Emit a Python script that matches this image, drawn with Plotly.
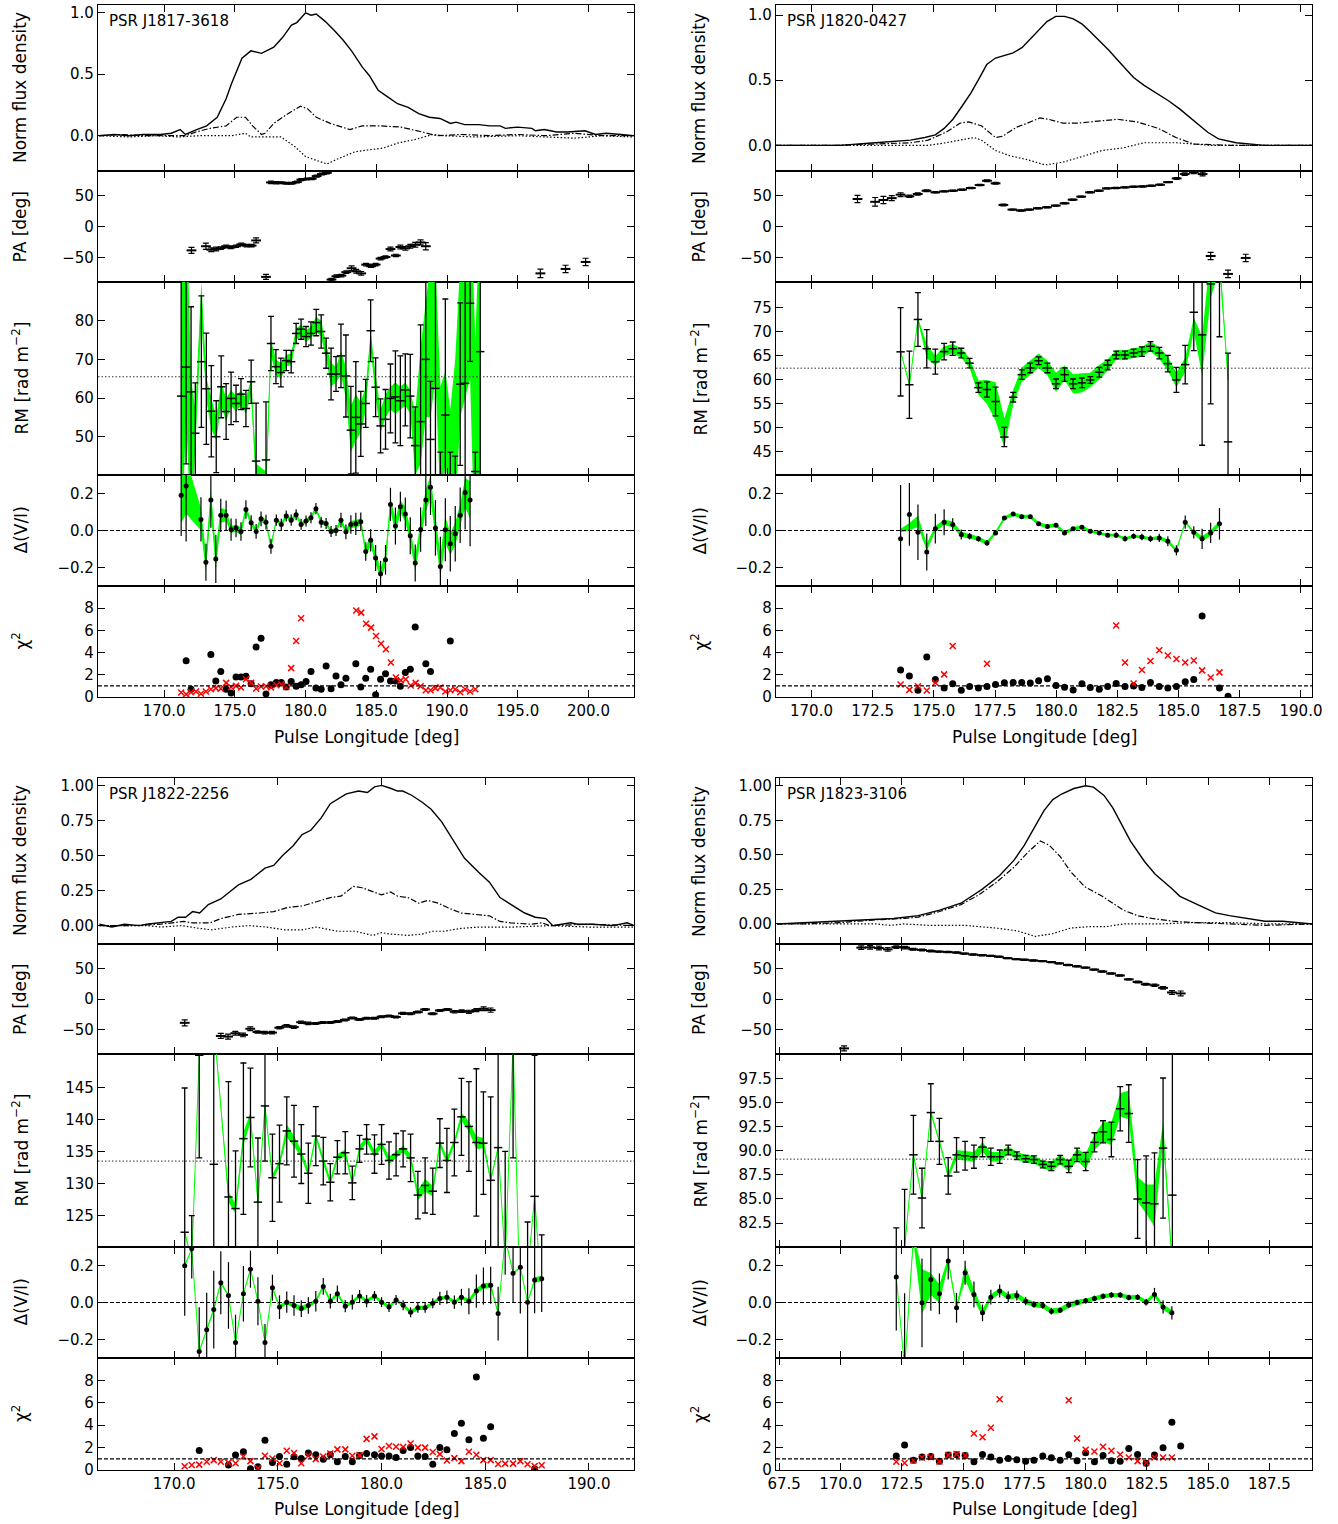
import plotly.graph_objects as go

W, H = 1338, 1524
FONT = "DejaVu Sans"
LIME = "#00ff00"

# ===================== PSR J1817-3618 =====================
p1_name = "PSR J1817-3618"
p1_I_lon = [165.4, 166.5, 167.5, 168.5, 169.75, 170.5, 171.13, 171.5, 172.3, 173.0, 173.75, 174.38, 174.75, 175.5, 176.13,
            176.88, 177.75, 178.38, 179.0, 179.38, 180.0, 180.38, 180.75, 181.38, 182.0, 182.63, 183.25, 184.0, 184.5, 185.13,
            185.75, 186.5, 187.25, 188.0, 188.75, 189.5, 190.25, 190.63, 191.25, 192.25, 193.0, 193.75, 194.13, 195.0, 196.0,
            196.25, 196.88, 197.75, 198.5, 199.75, 200.5, 201.25, 202.3, 203.2]
p1_I = [0.0, 0.01, 0.0, 0.01, 0.01, 0.02, 0.05, 0.01, 0.05, 0.08, 0.15, 0.3, 0.42, 0.63, 0.69,
        0.67, 0.72, 0.8, 0.9, 0.92, 1.0, 0.98, 0.99, 0.93, 0.86, 0.78, 0.69, 0.56, 0.49, 0.37,
        0.32, 0.26, 0.23, 0.18, 0.15, 0.14, 0.1, 0.11, 0.09, 0.09, 0.08, 0.08, 0.06, 0.07, 0.06,
        0.04, 0.05, 0.03, 0.03, 0.04, 0.01, 0.02, 0.01, 0.0]
p1_L_lon = [165.4, 167.0, 168.5, 170.0, 171.5, 172.25, 173.25, 174.38, 175.13, 175.75, 176.25, 176.88, 177.13, 177.75, 178.63,
            179.63, 180.13, 180.75, 181.75, 183.13, 184.0, 185.25, 186.75, 188.25, 189.25, 191.0, 193.0, 195.0, 197.0, 199.0,
            201.0, 203.2]
p1_L = [0.0, 0.01, 0.0, 0.0, 0.0, 0.03, 0.06, 0.08, 0.15, 0.15, 0.08, 0.01, 0.02, 0.1, 0.17,
        0.24, 0.22, 0.15, 0.1, 0.05, 0.08, 0.08, 0.07, 0.03, 0.0, 0.01, 0.0, 0.01, 0.0, 0.02,
        0.0, 0.0]
p1_V_lon = [165.4, 167.5, 169.5, 171.0, 172.5, 174.75, 175.75, 176.13, 178.25, 179.25, 180.0, 181.5, 182.25, 183.5, 185.5,
            186.5, 187.75, 189.0, 189.75, 192.0, 195.0, 197.0, 199.0, 201.0, 203.2]
p1_V = [0.0, -0.01, 0.0, -0.01, 0.0, 0.0, 0.02, -0.01, -0.01, -0.09, -0.17, -0.23, -0.19, -0.13, -0.1,
        -0.06, -0.03, 0.01, 0.0, -0.01, 0.0, -0.01, -0.02, 0.0, -0.01]
p1_pa_lon = [171.93, 172.95, 173.33, 173.68, 174.0, 174.38, 174.7, 175.08, 175.45, 175.83, 176.18, 176.5, 177.2, 177.55, 177.93,
             178.28, 178.65, 179.0, 179.38, 179.7, 180.08, 180.43, 180.78, 181.15, 181.5, 181.83, 182.18, 182.53, 182.88, 183.25,
             183.58, 183.93, 184.28, 184.63, 184.95, 185.3, 185.65, 186.0, 186.38, 186.7, 187.05, 187.4, 187.75, 188.13, 188.5,
             196.6, 198.38, 199.8]
p1_pa = [-38.7, -32, -37.6, -36.6, -35, -32, -34, -32, -29, -31, -31, -22.6, -81.7, 71.5, 71,
         71, 70, 70, 72, 76, 77, 77.4, 81.7, 85, 87, -86, -80.6, -79.6, -74, -67.7,
         -72.6, -76, -61.8, -64.5, -61.8, -52, -49.5, -36.6, -47, -33.3, -35.5, -32, -29.6, -25.8, -32,
         -76, -68.8, -57.5]
p1_pa_err = [5, 5, 3, 3, 2, 2, 2, 2, 2, 2, 2, 4, 4, 2, 2,
             1.5, 1.5, 1.5, 1.5, 1.5, 1.5, 1.5, 1.5, 1.5, 1.5, 2, 2, 2, 2, 4,
             3, 3, 2, 2, 2, 2, 2, 3, 2, 3, 3, 3, 4, 4, 6,
             7, 6, 6]
p1_rm_lon = [171.2, 171.55, 171.9, 172.2, 172.63, 172.98, 173.33, 173.68, 174.03, 174.38, 174.73, 175.08, 175.43, 175.78, 176.15,
             176.5, 177.2, 177.55, 177.9, 178.25, 178.63, 178.98, 179.33, 179.68, 180.03, 180.38, 180.75, 181.1, 181.45, 181.8,
             182.15, 182.5, 182.85, 183.2, 183.55, 183.9, 184.25, 184.6, 184.95, 185.3, 185.65, 186.0, 186.35, 186.7, 187.05,
             187.4, 187.75, 188.13, 188.5, 188.83, 189.18, 189.53, 189.88, 190.23, 190.58, 190.93, 191.28, 191.63, 192.0, 192.35]
p1_rm = [60.5, 68, 61.6, 50.9, 69.4, 62.4, 56.6, 50, 62.9, 56.5, 59.9, 58.6, 61, 57.3, 64.2,
         43.7, 44, 74.1, 68.1, 66.6, 69.7, 69.4, 76.7, 77.8, 75.9, 76.7, 79.5, 77.2, 71.6, 66.2,
         66.2, 70.9, 65.7, 51.7, 55, 53.3, 58.6, 77.4, 62.8, 52.8, 54.5, 59.9, 60.3, 59.3, 62.1,
         60.5, 47.7, 53.9, 70, 49.3, 62.5, 38, 55.6, 36, 30, 63.6, 63.8, 84.5, 41, 72]
p1_rm_err = [30, 25, 22, 13, 17, 14.4, 11.8, 9.3, 8, 7.2, 6.8, 4.7, 4, 4.7, 5.6,
             15, 15, 7, 4.4, 3.7, 2.6, 2.9, 2.6, 2.6, 2.6, 3, 3.4, 4.3, 3.9, 6.7,
             4.5, 8.2, 10.6, 11.3, 14.4, 8.4, 6.2, 8, 7.6, 7, 7.7, 8.9, 11.9, 11.6, 9.3,
             10.8, 10, 25, 30, 15, 30, 8, 30, 10, 15, 21, 30, 15, 5, 40]
p1_rm_g = [60.5, 85, 45, 52, 85, 62.4, 56, 52, 61, 57, 60, 58.6, 60, 58, 63,
           40, 38, 73, 68, 67, 69.7, 70, 76.5, 77.5, 76, 77, 79, 78, 72, 66,
           66, 69, 64, 52, 55, 55, 60, 75, 63, 54, 58, 60, 60, 60, 61,
           59, 48, 58, 70, 75, 80, 48, 55, 45, 50, 75, 80, 90, 45, 72]
p1_rm_gw = [40, 30, 20, 5, 5, 3, 4, 3, 3, 3, 2, 2, 2, 2, 2,
            3, 3, 2, 2, 2, 1.5, 1.5, 1.5, 1.5, 1.5, 1.5, 2, 2, 2, 3,
            2, 3, 4, 6, 6, 4, 3, 2, 3, 3, 3, 3, 4, 3, 3,
            3, 8, 15, 15, 20, 15, 15, 12, 12, 20, 20, 20, 25, 30, 40]
p1_rm_ref = 65.5
p1_dv_lon = [171.2, 171.55, 172.6, 172.95, 173.3, 173.65, 174.0, 174.38, 174.73, 175.08, 175.43, 175.78, 176.15, 176.5, 176.85,
             177.2, 177.55, 177.93, 178.28, 178.63, 178.98, 179.33, 179.68, 180.03, 180.38, 180.73, 181.1, 181.45, 181.8, 182.15,
             182.5, 182.85, 183.2, 183.55, 183.9, 184.25, 184.6, 184.95, 185.3, 185.65, 186.0, 186.35, 186.7, 187.05, 187.4,
             187.75, 188.13, 188.5, 188.83, 189.18, 189.53, 189.88, 190.23, 190.58, 190.93, 191.28, 191.63]
p1_dv = [0.19, 0.24, 0.06, -0.172, 0.165, -0.154, 0.082, 0.082, 0.005, 0.013, -0.005, 0.114, 0.042, -0.005, 0.063,
         0.045, -0.085, 0.056, 0.033, 0.078, 0.056, 0.085, 0.033, 0.051, 0.069, 0.118, 0.045, 0.038, -0.005, 0.0,
         0.056, -0.007, 0.033, 0.036, 0.047, -0.114, -0.053, -0.149, -0.234, -0.158, 0.141, 0.024, 0.129, 0.089, -0.029,
         -0.176, 0.005, 0.165, 0.234, 0.014, -0.194, 0.004, -0.072, -0.018, 0.082, 0.205, 0.165]
p1_dv_err = [0.22, 0.3, 0.12, 0.1, 0.15, 0.13, 0.09, 0.08, 0.06, 0.05, 0.05, 0.05, 0.04, 0.04, 0.04,
             0.04, 0.04, 0.03, 0.03, 0.03, 0.03, 0.03, 0.03, 0.03, 0.03, 0.03, 0.03, 0.03, 0.03, 0.03,
             0.04, 0.04, 0.05, 0.06, 0.05, 0.05, 0.06, 0.07, 0.07, 0.08, 0.09, 0.1, 0.08, 0.09, 0.1,
             0.1, 0.12, 0.14, 0.15, 0.15, 0.16, 0.17, 0.15, 0.15, 0.15, 0.2, 0.25]
p1_dv_g = p1_dv
p1_dv_gw = [0.15, 0.15, 0.06, 0.05, 0.06, 0.06, 0.04, 0.03, 0.02, 0.02, 0.02, 0.02, 0.015, 0.015, 0.015,
            0.015, 0.015, 0.012, 0.012, 0.012, 0.012, 0.012, 0.012, 0.012, 0.012, 0.012, 0.012, 0.012, 0.012, 0.012,
            0.015, 0.015, 0.02, 0.02, 0.02, 0.025, 0.03, 0.03, 0.03, 0.035, 0.035, 0.04, 0.035, 0.04, 0.04,
            0.04, 0.05, 0.06, 0.06, 0.06, 0.06, 0.07, 0.06, 0.06, 0.06, 0.08, 0.1]
p1_chib_lon = [171.55, 171.9, 173.3, 173.65, 174.0, 174.38, 174.73, 175.08, 175.43, 175.78, 176.15, 176.5, 176.85, 177.2, 177.55,
               177.93, 178.28, 178.63, 178.98, 179.33, 179.68, 180.03, 180.38, 180.73, 181.1, 181.45, 181.8, 182.15, 182.5, 182.85,
               183.55, 183.9, 184.25, 184.6, 184.95, 185.3, 185.65, 186.0, 186.35, 186.7, 187.05, 187.4, 187.75, 188.5, 188.83,
               190.23]
p1_chib = [3.26, 0.7, 3.84, 1.45, 2.3, 0.7, 0.36, 1.8, 1.8, 1.87, 1.2, 4.5, 5.3, 0.27, 1.1,
           1.3, 1.3, 0.9, 1.4, 0.97, 1.1, 1.4, 2.3, 0.8, 0.7, 2.8, 0.75, 1.9, 1.1, 1.7,
           3.0, 0.9, 1.7, 2.5, 0.2, 1.6, 2.1, 1.45, 1.45, 0.97, 2.2, 2.5, 6.3, 3.0, 2.3,
           5.05]
p1_chir_lon = [171.2, 171.55, 171.9, 172.25, 172.6, 172.95, 173.3, 173.65, 174.0, 174.38, 174.73, 175.08, 175.43, 175.78, 176.15,
               176.5, 176.85, 177.2, 177.55, 177.93, 178.28, 178.63, 178.98, 179.33, 179.68, 183.58, 183.93, 184.28, 184.63, 184.98,
               185.33, 185.68, 186.03, 186.38, 186.73, 187.08, 187.43, 187.78, 188.13, 188.5, 188.83, 189.18, 189.53, 189.88, 190.23,
               190.58, 190.93, 191.28, 191.63, 192.0]
p1_chir = [0.4, 0.24, 0.42, 0.5, 0.3, 0.5, 0.7, 0.8, 0.75, 1.27, 0.9, 1.0, 0.85, 1.6, 1.27,
           0.75, 0.94, 0.97, 0.85, 1.06, 1.15, 0.9, 2.6, 5.05, 7.1, 7.8, 7.6, 6.6, 6.25, 5.5,
           4.8, 4.3, 3.1, 1.75, 1.5, 1.6, 1.03, 1.27, 0.97, 0.6, 0.6, 0.8, 0.85, 0.5, 0.6,
           0.7, 0.42, 0.7, 0.5, 0.7]

# ===================== PSR J1820-0427 =====================
p2_name = "PSR J1820-0427"
p2_I_lon = [168.55, 170.0, 171.16, 172.6, 173.33, 174.05, 174.63, 175.06, 175.42, 175.78, 176.15, 176.51, 176.87, 177.16, 177.52,
            178.24, 178.6, 178.96, 179.33, 179.62, 179.98, 180.34, 180.7, 181.06, 181.35, 181.78, 182.15, 182.58, 183.16, 183.59,
            184.17, 184.6, 185.04, 185.62, 186.19, 186.63, 187.35, 188.51, 189.5, 190.45]
p2_I = [0.0, 0.0, 0.0, 0.02, 0.03, 0.04, 0.06, 0.08, 0.13, 0.2, 0.3, 0.4, 0.52, 0.62, 0.67,
        0.71, 0.75, 0.82, 0.89, 0.95, 0.99, 0.99, 0.97, 0.93, 0.88, 0.8, 0.73, 0.64, 0.52, 0.46,
        0.39, 0.34, 0.28, 0.19, 0.1, 0.05, 0.02, 0.0, 0.0, 0.0]
p2_L_lon = [168.55, 171.0, 172.6, 174.05, 174.77, 175.49, 176.07, 176.43, 176.94, 177.52, 177.81, 178.39, 178.82, 179.33, 179.69,
            180.27, 180.84, 181.86, 182.51, 183.3, 184.17, 184.89, 185.62, 187.06, 190.45]
p2_L = [0.0, 0.0, 0.01, 0.02, 0.04, 0.1, 0.17, 0.18, 0.15, 0.06, 0.07, 0.14, 0.17, 0.21, 0.2,
        0.17, 0.17, 0.19, 0.2, 0.18, 0.13, 0.06, 0.01, 0.0, 0.0]
p2_V_lon = [168.55, 172.0, 174.77, 175.49, 176.07, 176.65, 176.94, 177.52, 178.1, 178.82, 179.54, 180.27, 180.99, 181.86, 182.72,
            183.59, 184.89, 185.62, 186.34, 190.45]
p2_V = [0.0, 0.0, 0.0, 0.02, 0.04, 0.06, 0.04, -0.04, -0.08, -0.11, -0.15, -0.13, -0.09, -0.04, -0.02,
        0.02, 0.02, 0.01, 0.0, 0.0]
p2_pa_lon = [171.88, 172.6, 172.94, 173.28, 173.64, 174.0, 174.34, 174.7, 175.06, 175.42, 175.78, 176.15, 176.51, 176.87, 177.17,
             177.52, 177.84, 178.21, 178.56, 178.89, 179.25, 179.62, 179.98, 180.34, 180.67, 181.02, 181.38, 181.74, 182.07, 182.43,
             182.8, 183.16, 183.52, 183.88, 184.24, 184.57, 184.92, 185.25, 185.62, 185.98, 186.31, 187.02, 187.74]
p2_pa = [44.6, 40, 43, 46, 51.6, 49, 52.7, 58, 55.4, 57, 58, 59.7, 62.4, 67.2, 74.2,
         70, 35, 27.4, 25.8, 27.4, 29.6, 31.2, 33.9, 37.6, 43.5, 48.4, 55.4, 58, 61.8, 62.4,
         63.4, 64.5, 65, 66, 67.7, 72, 78, 85, 87.6, 85, -47.8, -76.9, -51]
p2_pa_err = [6, 7, 6, 4, 3, 2, 2, 1.5, 1, 1, 1, 1, 1, 1, 1.5,
             1.5, 1.5, 1, 1, 1, 1, 1, 1, 1, 1, 1, 1, 1, 1, 1,
             1, 1, 1, 1, 1, 1, 1.5, 2, 2, 3, 6, 6, 6]
p2_rm_lon = [173.64, 174.0, 174.35, 174.71, 175.06, 175.42, 175.77, 176.12, 176.46, 176.82, 177.17, 177.52, 177.88, 178.24, 178.59,
             178.94, 179.28, 179.64, 179.99, 180.34, 180.69, 181.05, 181.39, 181.76, 182.1, 182.45, 182.81, 183.16, 183.5, 183.85,
             184.21, 184.56, 184.91, 185.27, 185.62, 185.96, 186.31, 186.67, 187.02]
p2_rm = [65.85, 59, 72.6, 66.5, 63.8, 65.9, 66.5, 65.6, 63.5, 58.4, 58, 55.5, 48.1, 56.4, 61.1,
         62.5, 64, 62.5, 59.2, 61.1, 59.2, 59.4, 60, 61.6, 63.1, 65.2, 65.2, 65.6, 65.9, 67,
         65.6, 63.4, 60, 63.2, 74.1, 69.4, 80, 85, 47.1]
p2_rm_err = [9.2, 7, 5.6, 4, 2.6, 1.7, 1.4, 1, 1, 1, 1.6, 3, 2, 1, 1,
             1, 0.8, 1, 1, 1.4, 1, 1, 0.7, 1, 1, 0.8, 0.8, 0.8, 1, 1,
             1.2, 1.7, 2.6, 4, 8, 23, 25, 16, 18.5]
p2_rm_g = [66, 59, 72.6, 66, 64, 66, 66.5, 65.6, 63.5, 58.4, 57.5, 55.5, 49, 56.4, 61.1,
           62.5, 64, 62.5, 59.5, 61.5, 59.2, 59.4, 60, 61.6, 63.1, 65.2, 65.2, 65.6, 65.9, 67,
           65.6, 63.4, 60, 63.2, 71.5, 65, 82, 85, 60]
p2_rm_gw = [0.2, 0.2, 0.3, 1.5, 1, 1, 1, 1, 1, 1.5, 2.5, 4, 3, 1.5, 1.5,
            1.5, 1.5, 1.5, 2, 1.5, 2, 2, 1.5, 1.5, 1.2, 1, 1, 1, 1, 1,
            1.2, 1.5, 1.5, 1.5, 1.5, 4, 5, 2, 0.2]
p2_rm_ref = 62.45
p2_dv_lon = [173.64, 174.0, 174.35, 174.71, 175.06, 175.42, 175.77, 176.12, 176.46, 176.82, 177.17, 177.52, 177.88, 178.24, 178.59,
             178.94, 179.28, 179.64, 179.99, 180.34, 180.69, 181.05, 181.39, 181.76, 182.1, 182.45, 182.81, 183.16, 183.5, 183.85,
             184.21, 184.56, 184.91, 185.27, 185.62, 185.96, 186.31, 186.67]
p2_dv = [-0.044, 0.087, -0.01, -0.116, 0.01, 0.045, 0.033, -0.022, -0.031, -0.045, -0.067, -0.013, 0.067, 0.089, 0.075,
         0.075, 0.036, 0.022, 0.029, -0.013, 0.009, 0.018, -0.004, -0.013, -0.025, -0.025, -0.044, -0.031, -0.035, -0.045,
         -0.04, -0.058, -0.107, 0.045, -0.01, -0.045, -0.013, 0.036]
p2_dv_err = [0.29, 0.17, 0.15, 0.1, 0.08, 0.07, 0.033, 0.027, 0.018, 0.015, 0.015, 0.01, 0.01, 0.01, 0.01,
             0.01, 0.01, 0.01, 0.01, 0.01, 0.01, 0.01, 0.01, 0.01, 0.01, 0.015, 0.015, 0.015, 0.018, 0.018,
             0.022, 0.027, 0.027, 0.036, 0.033, 0.055, 0.055, 0.085]
p2_dv_g = [0.0, 0.02, 0.05, -0.09, 0.01, 0.045, 0.033, -0.022, -0.031, -0.045, -0.067, -0.013, 0.067, 0.089, 0.075,
           0.075, 0.036, 0.022, 0.029, -0.013, 0.009, 0.018, -0.004, -0.013, -0.025, -0.025, -0.044, -0.031, -0.035, -0.045,
           -0.04, -0.058, -0.107, 0.045, -0.01, -0.045, -0.013, 0.036]
p2_dv_gw = [0.01, 0.02, 0.03, 0.02, 0.015, 0.015, 0.015, 0.015, 0.012, 0.012, 0.012, 0.01, 0.01, 0.01, 0.01,
            0.01, 0.01, 0.01, 0.01, 0.01, 0.01, 0.01, 0.008, 0.008, 0.008, 0.008, 0.008, 0.008, 0.008, 0.008,
            0.01, 0.01, 0.01, 0.005, 0.01, 0.015, 0.015, 0.015]
p2_chib_lon = [173.64, 174.0, 174.35, 174.71, 175.06, 175.42, 175.77, 176.12, 176.46, 176.82, 177.17, 177.52, 177.88, 178.24, 178.59,
               178.94, 179.28, 179.64, 179.99, 180.34, 180.69, 181.05, 181.39, 181.76, 182.1, 182.45, 182.81, 183.16, 183.5, 183.85,
               184.21, 184.56, 184.91, 185.27, 185.62, 185.96, 186.67, 187.02]
p2_chib = [2.43, 1.9, 0.6, 3.6, 1.58, 0.82, 1.19, 0.6, 0.94, 0.82, 0.94, 1.12, 1.28, 1.3, 1.3,
           1.25, 1.46, 1.64, 1.03, 0.88, 0.64, 1.19, 0.85, 0.7, 0.94, 1.22, 0.94, 1.0, 0.85, 1.3,
           0.94, 0.82, 0.94, 1.37, 1.58, 7.3, 0.82, 0.06]
p2_chir_lon = [173.64, 174.0, 174.35, 174.71, 175.06, 175.42, 175.77, 177.17, 182.45, 182.81, 183.16, 183.5, 183.85, 184.21, 184.56,
               184.91, 185.27, 185.62, 185.96, 186.31, 186.67]
p2_chir = [1.12, 0.64, 0.97, 0.58, 1.28, 2.04, 4.6, 3.0, 6.44, 3.1, 1.22, 2.43, 3.25, 4.22, 3.74,
           3.43, 3.1, 3.28, 2.4, 1.76, 2.22]

# ===================== PSR J1822-2256 =====================
p3_name = "PSR J1822-2256"
p3_I_lon = [166.4, 167.0, 167.6, 168.33, 168.67, 169.35, 169.86, 170.2, 170.55, 170.89, 171.23, 171.65, 172.25, 172.67, 173.1,
            173.7, 174.38, 174.8, 175.23, 175.74, 176.17, 176.59, 177.1, 177.53, 177.87, 178.3, 178.89, 179.32, 179.66, 180.0,
            180.43, 180.77, 181.02, 181.45, 181.96, 182.39, 182.9, 183.32, 184.0, 184.68, 185.2, 185.71, 186.39, 186.9, 187.41,
            187.92, 188.26, 188.6, 189.11, 189.45, 190.14, 191.16, 191.84, 192.2]
p3_I = [0.01, -0.01, 0.01, 0.0, 0.01, 0.02, 0.03, 0.06, 0.06, 0.1, 0.09, 0.15, 0.19, 0.24, 0.29,
        0.33, 0.41, 0.43, 0.5, 0.57, 0.65, 0.68, 0.77, 0.87, 0.9, 0.94, 0.96, 0.95, 0.99, 1.0,
        0.98, 0.96, 0.96, 0.93, 0.88, 0.83, 0.74, 0.64, 0.48, 0.38, 0.31, 0.2, 0.14, 0.09, 0.06,
        0.05, 0.0, 0.01, 0.02, 0.01, 0.01, 0.0, 0.02, 0.0]
p3_L_lon = [166.4, 168.0, 169.35, 170.03, 170.46, 170.89, 171.74, 172.25, 173.1, 174.12, 174.8, 175.49, 176.17, 176.85, 177.53,
            178.04, 178.64, 179.06, 179.57, 180.0, 180.43, 180.77, 181.28, 181.79, 182.22, 182.73, 183.32, 183.83, 184.51, 185.2,
            185.71, 186.22, 187.24, 187.75, 188.09, 190.0, 192.2]
p3_L = [0.0, 0.0, 0.01, 0.02, 0.03, 0.02, 0.02, 0.05, 0.08, 0.09, 0.1, 0.13, 0.14, 0.17, 0.2,
        0.21, 0.28, 0.27, 0.24, 0.22, 0.24, 0.21, 0.2, 0.16, 0.18, 0.16, 0.12, 0.09, 0.08, 0.07,
        0.03, 0.02, 0.01, 0.02, 0.0, 0.01, 0.0]
p3_V_lon = [166.4, 168.67, 169.35, 170.37, 171.23, 171.82, 172.76, 173.61, 174.46, 175.32, 176.17, 176.85, 177.87, 178.72, 179.57,
            180.0, 180.43, 181.28, 181.96, 182.47, 182.98, 183.83, 184.68, 186.39, 188.09, 190.0, 192.2]
p3_V = [0.0, 0.0, -0.01, 0.0, -0.02, -0.03, -0.01, 0.0, -0.01, -0.03, -0.03, -0.01, -0.04, -0.04, -0.07,
        -0.05, -0.06, -0.07, -0.06, -0.04, -0.04, -0.02, -0.01, -0.01, 0.0, -0.01, -0.01]
p3_pa_lon = [170.51, 172.25, 172.6, 172.95, 173.32, 173.67, 174.02, 174.36, 174.72, 175.07, 175.42, 175.77, 176.12, 176.47, 176.82,
             177.17, 177.53, 177.87, 178.23, 178.59, 178.93, 179.28, 179.64, 180.0, 180.35, 180.69, 181.03, 181.39, 181.75, 182.1,
             182.46, 182.81, 183.17, 183.52, 183.86, 184.21, 184.57, 184.92, 185.26]
p3_pa = [-39, -60.4, -61.5, -56, -58.8, -48.7, -54, -55, -55, -47, -43.9, -46, -38, -40, -40,
         -38.5, -38.5, -36.9, -34.2, -31, -33.7, -31.6, -31.6, -28.9, -27.8, -29.4, -23.5, -24, -21.4, -17.1,
         -24, -18.7, -17.1, -20.9, -19.8, -20.9, -18.2, -16, -18.2]
p3_pa_err = [5, 4, 4, 3, 3, 3, 2, 2, 2, 2, 2, 2, 2, 2, 1.5,
             1.5, 1.5, 1.5, 1.5, 1.5, 1.5, 1.5, 1.5, 1.5, 1.5, 1.5, 1.5, 1.5, 1.5, 1.5,
             1.5, 1.5, 1.5, 2, 2, 2.5, 2.5, 3, 3.5]
p3_rm_lon = [170.51, 170.85, 171.21, 171.91, 172.62, 172.96, 173.34, 173.68, 174.04, 174.38, 174.74, 175.08, 175.43, 175.78, 176.13,
             176.47, 176.83, 177.19, 177.53, 177.87, 178.25, 178.59, 178.94, 179.28, 179.66, 180.0, 180.36, 180.7, 181.04, 181.4,
             181.75, 182.1, 182.47, 182.81, 183.15, 183.51, 183.85, 184.21, 184.57, 184.91, 185.26, 185.62, 185.96, 186.34, 186.69,
             187.04, 187.38, 187.72]
p3_rm = [122.4, 118, 150, 133, 127.9, 126.1, 137, 140.3, 127.1, 142.1, 130.9, 133.1, 138.2, 136.6, 134.6,
         131.6, 137.4, 133.5, 130.2, 134.1, 134.8, 130.1, 135.4, 136.9, 134.6, 136.1, 133.6, 134.5, 135.4, 134,
         128.2, 129.7, 128.8, 136.3, 133.6, 136.4, 140.4, 138.9, 136.4, 136.3, 130.5, 135.6, 118, 152, 110,
         116, 128, 112]
p3_rm_err = [22.5, 7, 16, 30, 18, 9, 11.8, 7.7, 10, 8.6, 6.8, 6, 5.3, 5.6, 4.6,
             4.7, 4.6, 3.7, 2.9, 2.6, 3.3, 2.6, 2.1, 2.3, 3, 3.1, 2.9, 3.3, 2.8, 3.7,
             3.7, 4.3, 3.6, 3.8, 5, 5.2, 6, 7, 11.5, 8, 13, 20, 17, 18, 10,
             8, 22, 10]
p3_rm_g = [122.4, 118, 150, 155, 127.9, 126.1, 137, 140.3, 127.1, 142.1, 130.9, 133.1, 138.2, 136.6, 134.6,
           131.6, 137.4, 133.5, 130.2, 134.1, 134.8, 130.1, 135.4, 136.9, 134.6, 136.1, 133.6, 134.5, 135.4, 134,
           128.2, 129.7, 128.8, 136.3, 133.6, 136.4, 140.4, 138.9, 136.4, 136.3, 130.5, 135.6, 118, 152, 110,
           116, 128, 112]
p3_rm_gw = [0.2, 0.2, 0.2, 0.2, 0.8, 0.8, 1.0, 0.8, 0.3, 0.3, 0.5, 0.5, 1.0, 0.8, 0.6,
            0.5, 0.4, 0.5, 0.5, 0.5, 0.5, 0.4, 0.5, 0.5, 0.6, 0.5, 0.6, 0.5, 0.5, 0.6,
            0.8, 1.0, 0.8, 0.5, 0.5, 0.5, 0.6, 0.8, 1.0, 0.8, 0.3, 0.2, 0.2, 0.2, 0.2,
            0.2, 0.2, 0.2]
p3_rm_ref = 133.5
p3_dv_lon = [170.51, 170.85, 171.21, 171.57, 171.91, 172.25, 172.62, 172.96, 173.34, 173.68, 174.04, 174.38, 174.74, 175.08, 175.43,
             175.78, 176.13, 176.47, 176.83, 177.19, 177.53, 177.87, 178.25, 178.59, 178.94, 179.28, 179.66, 180.0, 180.36, 180.7,
             181.04, 181.4, 181.75, 182.1, 182.47, 182.81, 183.15, 183.51, 183.85, 184.21, 184.57, 184.91, 185.26, 185.62, 185.96,
             186.34, 186.69, 187.04, 187.38, 187.72]
p3_dv = [0.198, 0.29, -0.265, -0.147, -0.038, 0.107, 0.038, -0.216, 0.047, 0.18, 0.007, -0.216, 0.08, -0.025, 0.002,
         -0.016, -0.033, -0.016, 0.007, 0.087, 0.007, 0.047, -0.02, 0.002, 0.035, 0.007, 0.035, 0.002, -0.024, 0.013,
         -0.015, -0.053, -0.029, -0.029, -0.004, 0.022, 0.029, 0.002, 0.029, 0.007, 0.062, 0.089, 0.093, -0.06, 0.35,
         0.158, 0.19, 0.002, 0.122, 0.129]
p3_dv_err = [0.27, 0.16, 0.24, 0.2, 0.21, 0.17, 0.18, 0.15, 0.15, 0.1, 0.13, 0.1, 0.07, 0.064, 0.058,
             0.055, 0.045, 0.045, 0.055, 0.045, 0.04, 0.045, 0.033, 0.04, 0.033, 0.033, 0.027, 0.027, 0.027, 0.027,
             0.027, 0.027, 0.027, 0.027, 0.027, 0.036, 0.036, 0.036, 0.045, 0.07, 0.09, 0.1, 0.1, 0.145, 0.2,
             0.155, 0.25, 0.3, 0.18, 0.18]
p3_dv_g = p3_dv
p3_dv_gw = [0.005, 0.005, 0.005, 0.005, 0.01, 0.01, 0.005, 0.005, 0.005, 0.005, 0.005, 0.005, 0.01, 0.01, 0.012,
            0.012, 0.015, 0.012, 0.01, 0.01, 0.01, 0.01, 0.01, 0.01, 0.01, 0.01, 0.01, 0.01, 0.01, 0.01,
            0.01, 0.012, 0.012, 0.012, 0.01, 0.01, 0.01, 0.01, 0.01, 0.012, 0.015, 0.015, 0.015, 0.005, 0.005,
            0.005, 0.005, 0.005, 0.015, 0.015]
p3_chib_lon = [171.21, 172.62, 172.96, 173.34, 173.68, 174.04, 174.38, 174.74, 175.08, 175.43, 175.78, 176.13, 176.47, 176.83, 177.19,
               177.53, 177.87, 178.25, 178.59, 178.94, 179.28, 179.66, 180.0, 180.36, 180.7, 181.04, 181.4, 181.75, 182.1, 182.47,
               182.81, 183.15, 183.51, 183.85, 184.21, 184.57, 184.91, 185.26, 187.38]
p3_chib = [1.75, 0.45, 1.33, 1.63, 0.12, 0.3, 2.66, 0.66, 1.2, 0.51, 1.18, 1.03, 1.51, 1.36, 0.97,
           1.36, 0.73, 1.2, 0.73, 1.3, 1.48, 1.36, 1.24, 1.24, 1.12, 1.75, 2.0, 1.24, 1.2, 0.51,
           2.0, 1.81, 3.26, 4.17, 2.69, 8.3, 2.84, 3.87, 0.12]
p3_chir_lon = p3_dv_lon
p3_chir = [0.33, 0.45, 0.48, 0.73, 0.88, 0.73, 0.66, 0.6, 1.2, 0.79, 0.15, 1.27, 1.03, 0.6, 1.72,
           1.51, 0.6, 1.27, 0.97, 1.2, 1.48, 1.84, 1.84, 1.27, 1.33, 2.78, 3.0, 1.87, 2.15, 2.08,
           2.05, 2.36, 2.0, 2.0, 1.6, 1.42, 0.85, 1.06, 0.79, 1.63, 1.36, 0.88, 0.88, 0.54, 0.57,
           0.57, 0.79, 0.51, 0.36, 0.42]

# ===================== PSR J1823-3106 =====================
p4_name = "PSR J1823-3106"
p4_I_lon = [167.4, 168.56, 170.0, 171.44, 172.16, 173.17, 174.04, 174.91, 175.77, 176.49, 177.07, 177.5, 177.94, 178.3, 178.66,
            179.02, 179.52, 180.0, 180.32, 180.75, 181.11, 181.47, 181.83, 182.41, 182.84, 183.49, 183.85, 184.57, 185.3, 185.87,
            186.59, 187.32, 188.04, 188.76, 189.24]
p4_I = [0.0, 0.01, 0.02, 0.03, 0.04, 0.06, 0.1, 0.15, 0.25, 0.35, 0.46, 0.57, 0.71, 0.82, 0.9,
        0.94, 0.98, 1.0, 0.99, 0.93, 0.84, 0.72, 0.6, 0.45, 0.36, 0.26, 0.2, 0.14, 0.08, 0.06,
        0.04, 0.02, 0.02, 0.01, 0.0]
p4_L_lon = [167.4, 168.56, 170.0, 171.44, 172.6, 173.17, 174.04, 174.91, 175.63, 176.35, 177.07, 177.65, 178.15, 178.51, 178.95,
            179.38, 179.96, 180.68, 181.11, 181.54, 182.12, 182.7, 183.56, 184.43, 185.87, 187.32, 189.24]
p4_L = [0.0, 0.0, 0.01, 0.03, 0.04, 0.05, 0.09, 0.14, 0.21, 0.3, 0.41, 0.52, 0.6, 0.57, 0.49,
        0.38, 0.27, 0.2, 0.15, 0.1, 0.06, 0.04, 0.02, 0.01, 0.0, -0.01, 0.0]
p4_V_lon = [167.4, 170.0, 171.44, 172.02, 172.6, 173.61, 175.05, 176.35, 177.22, 177.94, 178.66, 179.38, 180.1, 180.82, 181.54,
            182.99, 184.43, 185.87, 187.5, 189.24]
p4_V = [0.0, 0.0, 0.0, -0.01, 0.0, -0.01, -0.01, -0.03, -0.05, -0.09, -0.07, -0.03, -0.02, -0.02, 0.0,
        0.0, 0.01, 0.01, 0.0, 0.0]
p4_pa_lon = [170.14, 170.84, 171.2, 171.56, 171.92, 172.27, 172.63, 172.96, 173.32, 173.68, 174.01, 174.37, 174.73, 175.05, 175.41,
             175.77, 176.13, 176.46, 176.81, 177.17, 177.5, 177.86, 178.23, 178.59, 178.92, 179.28, 179.64, 179.99, 180.35, 180.68,
             181.04, 181.4, 181.76, 182.12, 182.45, 182.81, 183.16, 183.52, 183.88]
p4_pa = [-80.8, 84, 84.5, 83.4, 81.3, 85, 84, 81.3, 80.2, 78.6, 77.5, 77, 76, 74.3, 72.7,
         71.7, 70.6, 69, 66.9, 65.2, 64.2, 63.1, 62, 60.4, 58.3, 55.6, 53.5, 51.3, 48.1, 44.9,
         41.7, 38.5, 32.1, 27.8, 24.1, 22.5, 18.2, 10.7, 9.1]
p4_pa_err = [4, 3, 3, 3, 3, 2, 2, 1.5, 1.5, 1.5, 1, 1, 1, 1, 1,
             1, 1, 1, 1, 1, 1, 1, 1, 1, 1, 1, 1, 1, 1, 1,
             1, 1, 1, 1.5, 1.5, 2, 2, 3, 4]
p4_rm_lon = [172.27, 172.61, 172.97, 173.32, 173.68, 174.03, 174.39, 174.73, 175.08, 175.44, 175.79, 176.13, 176.49, 176.84, 177.19,
             177.55, 177.89, 178.25, 178.6, 178.96, 179.31, 179.65, 180.0, 180.36, 180.71, 181.05, 181.41, 181.76, 182.12, 182.47,
             182.81, 183.16, 183.54]
p4_rm = [78, 80, 89.6, 85.1, 94, 91, 87.4, 89.6, 89.5, 89.4, 90.4, 89.4, 89.4, 90.1, 89.5,
         89.2, 89.1, 88.6, 88.4, 89.1, 88.4, 89.6, 88.9, 90.9, 92, 91.2, 94.4, 93.9, 85, 84.6,
         84.5, 90.3, 85.4]
p4_rm_err = [4, 6, 4.1, 3.1, 3, 2.4, 1.9, 1.8, 1.5, 1.2, 1.0, 0.9, 0.7, 0.5, 0.4,
             0.35, 0.4, 0.35, 0.45, 0.45, 0.65, 0.7, 0.95, 1.0, 1.15, 1.8, 2.3, 3, 4.1, 4.9,
             5.3, 7.3, 15]
p4_rm_g = [78, 80, 89.6, 85.1, 94, 91, 87.4, 89.6, 89.5, 89.4, 90.4, 89.4, 89.4, 90.1, 89.5,
           89.2, 89.1, 88.6, 88.4, 89.1, 88.4, 89.6, 88.9, 90.9, 92, 91.8, 94.8, 94.8, 86, 85,
           84.3, 92, 78]
p4_rm_gw = [0.1, 0.1, 0.15, 0.15, 0.2, 0.2, 0.3, 0.5, 0.5, 0.5, 0.5, 0.5, 0.5, 0.4, 0.4,
            0.4, 0.4, 0.4, 0.5, 0.5, 0.5, 0.6, 0.8, 0.8, 1.0, 1.2, 1.2, 1.5, 1.3, 1.5,
            2.2, 1.0, 0.3]
p4_rm_ref = 89.15
p4_dv_lon = [172.27, 172.61, 172.97, 173.32, 173.68, 174.03, 174.39, 174.73, 175.08, 175.44, 175.79, 176.13, 176.49, 176.84, 177.19,
             177.55, 177.89, 178.25, 178.6, 178.96, 179.31, 179.65, 180.0, 180.36, 180.71, 181.05, 181.41, 181.76, 182.12, 182.47,
             182.81, 183.16, 183.52]
p4_dv = [0.138, -0.35, 0.35, -0.002, 0.125, 0.047, 0.225, -0.029, 0.161, 0.043, -0.056, 0.029, 0.062, 0.031, 0.038,
         0.007, -0.011, -0.016, -0.047, -0.042, -0.013, 0.0, 0.009, 0.022, 0.034, 0.04, 0.04, 0.027, 0.029, 0.002,
         0.043, -0.024, -0.056]
p4_dv_err = [0.29, 0.4, 0.02, 0.24, 0.17, 0.11, 0.1, 0.08, 0.065, 0.07, 0.045, 0.04, 0.035, 0.03, 0.027,
             0.022, 0.018, 0.018, 0.018, 0.015, 0.018, 0.015, 0.015, 0.015, 0.015, 0.015, 0.015, 0.015, 0.015, 0.018,
             0.036, 0.036, 0.036]
p4_dv_g = [0.138, -0.35, 0.35, 0.06, 0.1, 0.047, 0.225, -0.029, 0.161, 0.043, -0.056, 0.029, 0.062, 0.031, 0.038,
           0.007, -0.011, -0.016, -0.047, -0.042, -0.013, 0.0, 0.009, 0.022, 0.034, 0.04, 0.04, 0.027, 0.029, 0.002,
           0.043, -0.024, -0.056]
p4_dv_gw = [0.005, 0.005, 0.02, 0.12, 0.06, 0.05, 0.02, 0.01, 0.04, 0.03, 0.02, 0.015, 0.015, 0.015, 0.015,
            0.015, 0.015, 0.015, 0.015, 0.015, 0.015, 0.015, 0.012, 0.012, 0.012, 0.012, 0.012, 0.012, 0.012, 0.012,
            0.012, 0.015, 0.015]
p4_chib_lon = [172.27, 172.61, 172.97, 173.32, 173.68, 174.03, 174.39, 174.73, 175.08, 175.44, 175.79, 176.13, 176.49, 176.84, 177.19,
               177.55, 177.89, 178.25, 178.6, 178.96, 179.31, 179.65, 180.0, 180.36, 180.71, 181.05, 181.41, 181.76, 182.12, 182.47,
               182.81, 183.16, 183.52, 183.88]
p4_chib = [1.24, 2.24, 0.88, 1.15, 1.21, 0.79, 1.33, 1.36, 1.3, 0.73, 1.39, 1.15, 0.88, 1.03, 0.91,
           0.79, 0.88, 1.24, 1.09, 0.88, 1.36, 0.82, 1.54, 0.73, 1.3, 0.82, 0.79, 1.93, 1.39, 0.6,
           1.33, 1.99, 4.26, 2.15]
p4_chir_lon = [172.27, 172.61, 172.97, 173.32, 173.68, 174.03, 174.39, 174.73, 175.08, 175.44, 175.79, 176.13, 176.49, 179.31, 179.65,
               180.0, 180.36, 180.71, 181.05, 181.41, 181.76, 182.12, 182.47, 182.81, 183.16, 183.52]
p4_chir = [0.73, 0.63, 0.85, 1.12, 1.15, 0.76, 1.33, 1.42, 1.27, 3.26, 2.93, 3.78, 6.31, 6.22, 2.81,
           1.81, 1.66, 2.08, 1.72, 1.39, 1.12, 0.79, 0.63, 1.12, 1.12, 1.12]

# ---------------- axis settings (ticks / ranges) ----------------
x_ticks_1 = [170, 175, 180, 185, 190, 195, 200]
x_ticks_2 = [170, 172.5, 175, 177.5, 180, 182.5, 185, 187.5, 190]
x_ticks_3 = [170, 175, 180, 185, 190]
x_ticks_4 = [167.5, 170, 172.5, 175, 177.5, 180, 182.5, 185, 187.5]
flux_ticks_a = [0, 0.5, 1.0]
flux_ticks_b = [0, 0.25, 0.5, 0.75, 1.0]
pa_ticks = [-50, 0, 50]
rm_ticks_1 = [50, 60, 70, 80]
rm_ticks_2 = [45, 50, 55, 60, 65, 70, 75]
rm_ticks_3 = [125, 130, 135, 140, 145]
rm_ticks_4 = [82.5, 85, 87.5, 90, 92.5, 95, 97.5]
dv_ticks = [-0.2, 0, 0.2]
chi_ticks = [0, 2, 4, 6, 8]


def fmt(v, d):
    s = f"{v:.{d}f}"
    return s.replace("-", "\u2212")


def xfmt_clip(v, d, xr):
    # the leftmost label of the J1823 panel is cut at the panel border in the original figure
    s = fmt(v, d)
    if v - xr[0] < 0.3:
        s = "\u2007" + s[1:]
    return s


panels = [
    dict(name=p1_name, col=0, grp=0, xr=[165.32, 203.22], xt=x_ticks_1, xd=1,
         I=(p1_I_lon, p1_I), L=(p1_L_lon, p1_L), V=(p1_V_lon, p1_V), fr=[-0.287, 1.063], ft=flux_ticks_a, fd=1,
         pa=(p1_pa_lon, p1_pa, p1_pa_err),
         rm=(p1_rm_lon, p1_rm, p1_rm_err, p1_rm_g, p1_rm_gw), rmr=[40.1, 90.0], rmt=rm_ticks_1, rmd=0, rmref=p1_rm_ref,
         dv=(p1_dv_lon, p1_dv, p1_dv_err, p1_dv_g, p1_dv_gw),
         chib=(p1_chib_lon, p1_chib), chir=(p1_chir_lon, p1_chir)),
    dict(name=p2_name, col=1, grp=0, xr=[168.55, 190.45], xt=x_ticks_2, xd=1,
         I=(p2_I_lon, p2_I), L=(p2_L_lon, p2_L), V=(p2_V_lon, p2_V), fr=[-0.197, 1.077], ft=flux_ticks_a, fd=1,
         pa=(p2_pa_lon, p2_pa, p2_pa_err),
         rm=(p2_rm_lon, p2_rm, p2_rm_err, p2_rm_g, p2_rm_gw), rmr=[40.2, 80.4], rmt=rm_ticks_2, rmd=0, rmref=p2_rm_ref,
         dv=(p2_dv_lon, p2_dv, p2_dv_err, p2_dv_g, p2_dv_gw),
         chib=(p2_chib_lon, p2_chib), chir=(p2_chir_lon, p2_chir)),
    dict(name=p3_name, col=0, grp=1, xr=[166.33, 192.17], xt=x_ticks_3, xd=1,
         I=(p3_I_lon, p3_I), L=(p3_L_lon, p3_L), V=(p3_V_lon, p3_V), fr=[-0.131, 1.053], ft=flux_ticks_b, fd=2,
         pa=(p3_pa_lon, p3_pa, p3_pa_err),
         rm=(p3_rm_lon, p3_rm, p3_rm_err, p3_rm_g, p3_rm_gw), rmr=[120.1, 150.2], rmt=rm_ticks_3, rmd=0, rmref=p3_rm_ref,
         dv=(p3_dv_lon, p3_dv, p3_dv_err, p3_dv_g, p3_dv_gw),
         chib=(p3_chib_lon, p3_chib), chir=(p3_chir_lon, p3_chir)),
    dict(name=p4_name, col=1, grp=1, xr=[167.36, 189.24], xt=x_ticks_4, xd=1,
         I=(p4_I_lon, p4_I), L=(p4_L_lon, p4_L), V=(p4_V_lon, p4_V), fr=[-0.145, 1.056], ft=flux_ticks_b, fd=2,
         pa=(p4_pa_lon, p4_pa, p4_pa_err),
         rm=(p4_rm_lon, p4_rm, p4_rm_err, p4_rm_g, p4_rm_gw), rmr=[80.0, 100.1], rmt=rm_ticks_4, rmd=1, rmref=p4_rm_ref,
         dv=(p4_dv_lon, p4_dv, p4_dv_err, p4_dv_g, p4_dv_gw),
         chib=(p4_chib_lon, p4_chib), chir=(p4_chir_lon, p4_chir)),
]

COL_X = [(98, 634), (776, 1312)]
ROW_EDGES = [[5, 171, 282, 475, 586, 697], [778, 944, 1054, 1247, 1358, 1470]]
YLAB_X = [20, 699]
XLAB_Y = [737, 1509]
YLABELS = ["Norm flux density", "PA [deg]", "RM [rad m<sup>\u22122</sup>]", "\u0394(V/I)", "\u03c7<sup>2</sup>"]

axstyle = dict(showline=True, linecolor="black", linewidth=1.2, mirror="ticks", ticks="inside",
               ticklen=7, tickwidth=1.2, tickcolor="black", showgrid=False, zeroline=False,
               automargin=False, tickfont=dict(family=FONT, size=15, color="black"))

fig = go.Figure()
layout = {}
annotations = []
shapes = []


def band(fig, xa, ya, lon, g, gw):
    up = [a + b for a, b in zip(g, gw)]
    lo = [a - b for a, b in zip(g, gw)]
    fig.add_trace(go.Scatter(x=lon, y=up, mode="lines", line=dict(width=0, color=LIME),
                             xaxis=xa, yaxis=ya, showlegend=False, hoverinfo="skip"))
    fig.add_trace(go.Scatter(x=lon, y=lo, mode="lines", line=dict(width=0, color=LIME), fill="tonexty",
                             fillcolor=LIME, xaxis=xa, yaxis=ya, showlegend=False, hoverinfo="skip"))
    fig.add_trace(go.Scatter(x=lon, y=g, mode="lines", line=dict(width=1, color=LIME),
                             xaxis=xa, yaxis=ya, showlegend=False, hoverinfo="skip"))


for pi, P in enumerate(panels):
    x0, x1 = COL_X[P["col"]]
    xdom = [x0 / W, x1 / W]
    edges = ROW_EDGES[P["grp"]]
    for r in range(5):
        n = pi * 5 + r + 1
        sfx = "" if n == 1 else str(n)
        xa, ya = "x" + sfx, "y" + sfx
        top, bot = edges[r], edges[r + 1]
        layout["xaxis" + sfx] = dict(domain=xdom, anchor=ya, range=P["xr"], tickmode="array",
                                     tickvals=P["xt"], ticktext=[xfmt_clip(v, P["xd"], P["xr"]) for v in P["xt"]],
                                     showticklabels=(r == 4), **axstyle)
        if r == 0:
            yr, yt, yd = P["fr"], P["ft"], P["fd"]
        elif r == 1:
            yr, yt, yd = [-90, 90], pa_ticks, 0
        elif r == 2:
            yr, yt, yd = P["rmr"], P["rmt"], P["rmd"]
        elif r == 3:
            yr, yt, yd = [-0.3, 0.3], dv_ticks, 1
        else:
            yr, yt, yd = [0, 10], chi_ticks, 0
        layout["yaxis" + sfx] = dict(domain=[1 - bot / H, 1 - top / H], anchor=xa, range=yr, tickmode="array",
                                     tickvals=yt, ticktext=[fmt(v, yd) for v in yt], **axstyle)
        annotations.append(dict(text=YLABELS[r], x=YLAB_X[P["col"]] / W, y=1 - (top + bot) / 2 / H,
                                xref="paper", yref="paper", textangle=-90, showarrow=False,
                                font=dict(family=FONT, size=17, color="black"),
                                xanchor="center", yanchor="middle"))

        if r == 0:
            fig.add_trace(go.Scatter(x=P["I"][0], y=P["I"][1], mode="lines", line=dict(color="black", width=1.4),
                                     xaxis=xa, yaxis=ya, showlegend=False))
            fig.add_trace(go.Scatter(x=P["L"][0], y=P["L"][1], mode="lines",
                                     line=dict(color="black", width=1.2, dash="6px,2px,1.5px,2px"),
                                     xaxis=xa, yaxis=ya, showlegend=False))
            fig.add_trace(go.Scatter(x=P["V"][0], y=P["V"][1], mode="lines",
                                     line=dict(color="black", width=1.2, dash="1.5px,2px"),
                                     xaxis=xa, yaxis=ya, showlegend=False))
            annotations.append(dict(text=P["name"], x=(x0 + 9) / W, y=1 - (top + 16) / H, xref="paper", yref="paper",
                                    showarrow=False, xanchor="left", yanchor="middle",
                                    font=dict(family=FONT, size=15, color="black")))
        elif r == 1:
            lon, v, e = P["pa"]
            fig.add_trace(go.Scatter(x=lon, y=v, mode="markers",
                                     marker=dict(symbol="line-ew", size=7, color="black",
                                                 line=dict(width=2, color="black")),
                                     error_y=dict(type="data", array=e, visible=True, color="black",
                                                  thickness=1.2, width=3),
                                     xaxis=xa, yaxis=ya, showlegend=False))
        elif r == 2:
            lon, v, e, g, gw = P["rm"]
            band(fig, xa, ya, lon, g, gw)
            fig.add_trace(go.Scatter(x=lon, y=v, mode="markers",
                                     marker=dict(symbol="line-ew", size=6, color="black",
                                                 line=dict(width=1.5, color="black")),
                                     error_y=dict(type="data", array=e, visible=True, color="black",
                                                  thickness=1.3, width=3),
                                     xaxis=xa, yaxis=ya, showlegend=False))
            shapes.append(dict(type="line", xref=xa + " domain", yref=ya, x0=0, x1=1,
                               y0=P["rmref"], y1=P["rmref"], line=dict(color="#333333", width=1, dash="1.5px,2px")))
        elif r == 3:
            lon, v, e, g, gw = P["dv"]
            band(fig, xa, ya, lon, g, gw)
            fig.add_trace(go.Scatter(x=lon, y=v, mode="markers",
                                     marker=dict(symbol="circle", size=5, color="black"),
                                     error_y=dict(type="data", array=e, visible=True, color="black",
                                                  thickness=1.2, width=0),
                                     xaxis=xa, yaxis=ya, showlegend=False))
            shapes.append(dict(type="line", xref=xa + " domain", yref=ya, x0=0, x1=1, y0=0, y1=0,
                               line=dict(color="black", width=1.2, dash="4px,2px")))
        else:
            fig.add_trace(go.Scatter(x=P["chib"][0], y=P["chib"][1], mode="markers",
                                     marker=dict(symbol="circle", size=7, color="black"),
                                     xaxis=xa, yaxis=ya, showlegend=False))
            fig.add_trace(go.Scatter(x=P["chir"][0], y=P["chir"][1], mode="markers",
                                     marker=dict(symbol="x-thin", size=6, color="red",
                                                 line=dict(width=1.5, color="red")),
                                     xaxis=xa, yaxis=ya, showlegend=False))
            shapes.append(dict(type="line", xref=xa + " domain", yref=ya, x0=0, x1=1, y0=1, y1=1,
                               line=dict(color="black", width=1.2, dash="4px,2px")))
    annotations.append(dict(text="Pulse Longitude [deg]", x=(x0 + x1) / 2 / W, y=1 - XLAB_Y[P["grp"]] / H,
                            xref="paper", yref="paper", showarrow=False, xanchor="center", yanchor="middle",
                            font=dict(family=FONT, size=17, color="black")))

fig.update_layout(width=W, height=H, autosize=False, margin=dict(l=0, r=0, t=0, b=0, pad=0, autoexpand=False),
                  paper_bgcolor="white", plot_bgcolor="white", showlegend=False,
                  font=dict(family=FONT, color="black"),
                  annotations=annotations, shapes=shapes, **layout)

fig.write_html("out.html", config={"responsive": False},
               post_script="document.body.style.margin='0';document.body.style.overflow='hidden';")
